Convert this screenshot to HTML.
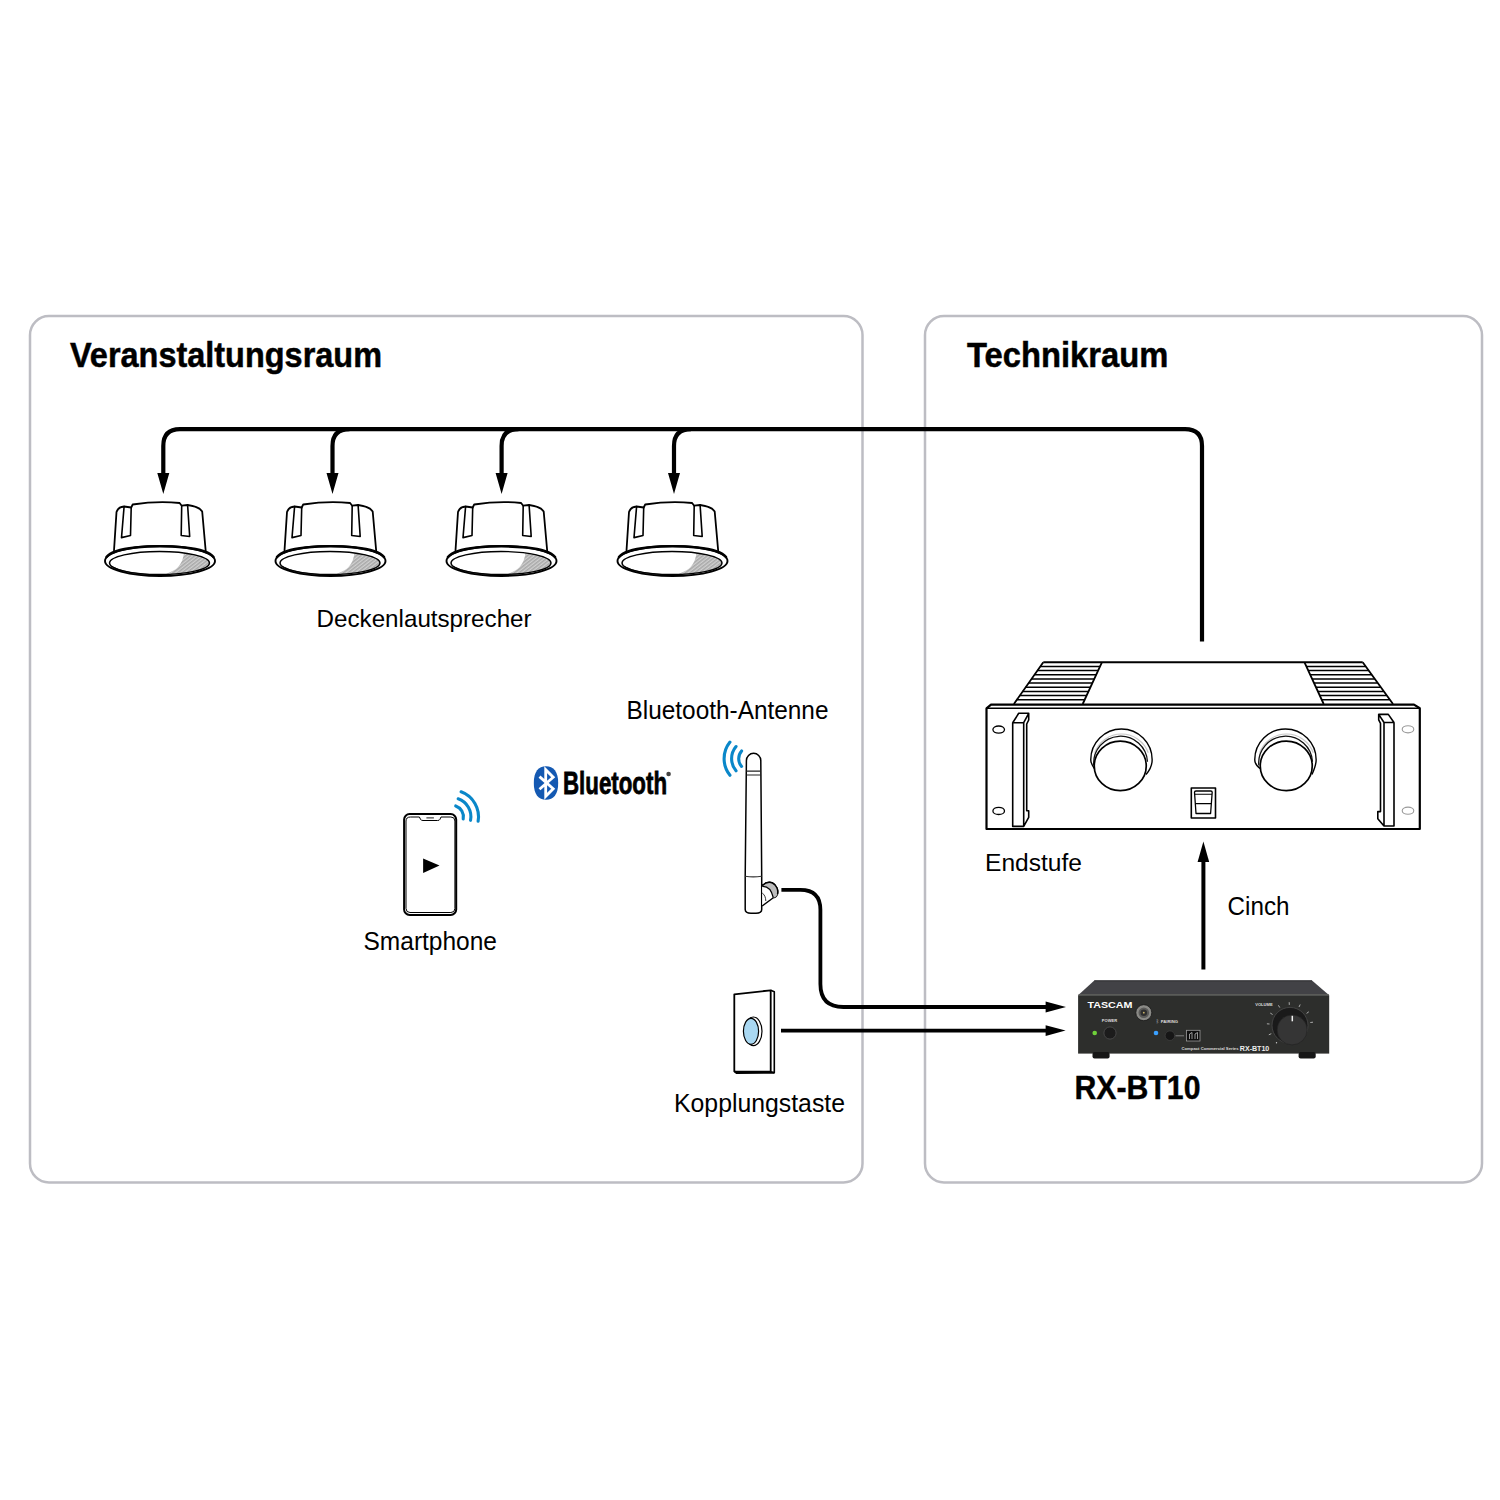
<!DOCTYPE html>
<html><head><meta charset="utf-8">
<style>
html,body{margin:0;padding:0;background:#fff;}
body{width:1500px;height:1500px;overflow:hidden;}
svg{display:block;}
text{font-family:"Liberation Sans",sans-serif;fill:#000;}
</style></head><body>
<svg width="1500" height="1500" viewBox="0 0 1500 1500">
<defs>
<pattern id="hatch" width="2.8" height="2.8" patternUnits="userSpaceOnUse" patternTransform="rotate(-38)"><rect width="2.8" height="2.8" fill="#d0d0d0"/><rect width="2.8" height="1.5" fill="#a9a9a9"/></pattern>
<clipPath id="innerClip"><ellipse cx="159.5" cy="563" rx="50" ry="11.5"/></clipPath>
<g id="spk" fill="none" stroke="#000" stroke-linejoin="round" stroke-linecap="round">
  <!-- body -->
  <path d="M114,550.5 L116.5,512 Q118,507 124.1,506.5 L131.2,507.5 L132.7,504.5 Q158,500.5 179.6,503 L181.7,505.7 L187.6,505 Q199,506.5 202.2,511.5 L205.7,551" fill="#fff" stroke-width="1.8"/>
  <path d="M124.1,506.5 L121.5,537.6 L130.5,535.5 L131.2,507.5 M181.7,505.7 L181.2,535.5 L189.7,536.5 L187.6,505" stroke-width="1.6"/>
  <!-- ring outer -->
  <ellipse cx="160" cy="561" rx="55" ry="15" fill="#fff" stroke-width="1.9"/>
  <path d="M106.5,557 Q112,550 135,547.5 Q160,545 185,547.5 Q208,550 213.5,557" stroke-width="2.6"/>
  <path d="M184.5,549 C183.5,558 182,564 176,569 C172,572 166,574 158,577 L225,580 L225,549 Z" fill="url(#hatch)" stroke="none" clip-path="url(#innerClip)"/>
  <ellipse cx="159.5" cy="563" rx="50" ry="11.5" stroke-width="1.4"/>
  <path d="M112,566.5 Q125,574.5 160,575" stroke-width="0.9"/>
</g>
</defs>

<!-- panels -->
<rect x="30" y="316" width="832.5" height="866.5" rx="19" ry="19" fill="none" stroke="#bdbdc3" stroke-width="2.5"/>
<rect x="925" y="316" width="557" height="866.5" rx="19" ry="19" fill="none" stroke="#bdbdc3" stroke-width="2.5"/>

<!-- headings -->
<text x="70" y="366.5" font-size="35.2" font-weight="bold" textLength="312" stroke="#000" stroke-width="0.5" lengthAdjust="spacingAndGlyphs">Veranstaltungsraum</text>
<text x="967" y="366.5" font-size="35.5" font-weight="bold" textLength="201.3" stroke="#000" stroke-width="0.5" lengthAdjust="spacingAndGlyphs">Technikraum</text>

<!-- bus line -->
<path d="M163.3,473 L163.3,446 Q163.3,429.2 180,429.2 L1185,429.2 Q1202,429.2 1202,446 L1202,641.4" fill="none" stroke="#000" stroke-width="4.2"/>
<path d="M349.5,429.2 Q332.5,429.2 332.5,446 L332.5,473" fill="none" stroke="#000" stroke-width="4.2"/>
<path d="M518.6,429.2 Q501.6,429.2 501.6,446 L501.6,473" fill="none" stroke="#000" stroke-width="4.2"/>
<path d="M691,429.2 Q674,429.2 674,446 L674,473" fill="none" stroke="#000" stroke-width="4.2"/>
<path d="M157.3,473 L169.3,473 L163.3,494 Z M326.5,473 L338.5,473 L332.5,494 Z M495.6,473 L507.6,473 L501.6,494 Z M668,473 L680,473 L674,494 Z"/>

<!-- speakers -->
<use href="#spk"/>
<use href="#spk" transform="translate(170.5,0)"/>
<use href="#spk" transform="translate(341.5,0)"/>
<use href="#spk" transform="translate(512.5,0)"/>

<text x="316.6" y="627" font-size="24.4" textLength="215" lengthAdjust="spacingAndGlyphs">Deckenlautsprecher</text>

<!-- ===== AMPLIFIER ===== -->
<g id="amp" fill="none" stroke="#000" stroke-linejoin="round">
  <path d="M1043.3,662.3 L1362.7,662.3" stroke-width="2"/>
  <path d="M1043.3,662.3 L1013.9,704 M1101.9,662.3 L1082.7,704 M1304.5,662.3 L1323.7,704 M1362.7,662.3 L1393,704" stroke-width="1.8"/>
  <g id="finsL" stroke-width="1.5">
    <path d="M1040.3,666.5 L1100,666.5 M1037.4,670.6 L1098,670.6 M1034.4,674.8 L1096.1,674.8 M1031.4,679 L1094.2,679 M1028.5,683.1 L1092.3,683.1 M1025.5,687.3 L1090.4,687.3 M1022.6,691.4 L1088.5,691.4 M1019.7,695.6 L1086.6,695.6 M1016.8,699.8 L1084.7,699.8"/>
  </g>
  <g stroke-width="1.5">
    <path d="M1306.4,666.5 L1365.7,666.5 M1308.3,670.6 L1368.7,670.6 M1310.2,674.8 L1371.7,674.8 M1312.1,679 L1374.7,679 M1314,683.1 L1377.7,683.1 M1316,687.3 L1380.6,687.3 M1317.9,691.4 L1383.6,691.4 M1319.8,695.6 L1386.6,695.6 M1321.7,699.8 L1389.6,699.8"/>
  </g>
  <path d="M986.5,829 L986.5,708.3 L991,704.6 L1414,704.6 L1419.8,708.2 L1419.8,829 Z" fill="#fff" stroke-width="2.2"/>
  <path d="M986.5,708.3 L1419.8,708.3" stroke-width="1.6"/>
  <ellipse cx="998.7" cy="729.6" rx="5.8" ry="3.6" stroke-width="1.3"/>
  <ellipse cx="998.7" cy="810.9" rx="5.8" ry="3.6" stroke-width="1.3"/>
  <ellipse cx="1408" cy="729.3" rx="5.8" ry="3.6" stroke="#9a9a9a" stroke-width="1.1"/>
  <ellipse cx="1408" cy="810.7" rx="5.8" ry="3.6" stroke="#9a9a9a" stroke-width="1.1"/>
  <!-- left handle -->
  <path d="M1012.7,722.7 L1023.7,722.7 L1023.7,826.4 L1012.7,826.4 Z M1012.7,722.7 L1018.7,713.3 L1028.7,713.3 L1023.7,722.7 M1028.7,713.3 L1028.7,720 L1026.7,724 L1026.7,810.7 L1028.7,810.7 L1028.7,817.3 L1023.7,826.4" stroke-width="1.6"/>
  <!-- right handle -->
  <path d="M1384,722.5 L1394,722.5 L1394,826 L1384,826 Z M1384,722.5 L1378.7,714.4 L1388.3,714.4 L1394,722.5 M1378.7,714.4 L1378.7,719.8 L1380.5,723.4 L1380.5,811.6 L1377.8,811.6 L1377.8,818.8 L1384,826" stroke-width="1.6"/>
  <!-- knobs -->
  <path d="M1094.6,769 C1092.5,766 1090.75,763 1090.75,759.7 A30.7,30.7 0 0 1 1152.15,759.7 C1152.15,765 1150,770 1146,774.5" stroke-width="1.4"/>
  <path d="M1094.72,752.75 A28.5,28.5 0 0 1 1148.28,752.75" stroke="#c8c8c8" stroke-width="1.2"/>
  <path d="M1093.80,765.49 A26.9,26.9 0 1 1 1147.46,761.74" stroke="#111" stroke-width="1.3"/>
  <ellipse cx="1120.25" cy="765.9" rx="26" ry="24.8" fill="#fff" stroke-width="1.7"/>
  <path d="M1260.6,769 C1256.5,766 1254.75,763 1254.75,759.7 A30.7,30.7 0 0 1 1316.15,759.7 C1316.15,765 1314,770 1312,774.5" stroke-width="1.4"/>
  <path d="M1259.72,752.75 A28.5,28.5 0 0 1 1313.28,752.75" stroke="#c8c8c8" stroke-width="1.2"/>
  <path d="M1258.80,765.49 A26.9,26.9 0 1 1 1312.46,761.74" stroke="#111" stroke-width="1.3"/>
  <ellipse cx="1286.25" cy="765.9" rx="26" ry="24.8" fill="#fff" stroke-width="1.7"/>
  <!-- switch -->
  <rect x="1191.3" y="788" width="24.2" height="30" stroke-width="1.6"/>
  <path d="M1194.5,792.3 Q1194.5,791 1196,791 L1210.8,791 Q1212.2,791 1212.2,792.3 L1210.6,813.5 L1196,813.5 Z" stroke-width="1.3"/>
  <path d="M1194.7,794.2 L1212,794.2 M1195.4,803.6 L1211.3,803.6" stroke-width="1.1"/>
</g>

<text x="985" y="870.8" font-size="24.6" textLength="97" lengthAdjust="spacingAndGlyphs">Endstufe</text>
<text x="1227.5" y="914.6" font-size="25" textLength="62" lengthAdjust="spacingAndGlyphs">Cinch</text>
<text x="1074.5" y="1099" font-size="32.7" font-weight="bold" textLength="126" stroke="#000" stroke-width="0.4" lengthAdjust="spacingAndGlyphs">RX-BT10</text>
<text x="626.5" y="718.5" font-size="25" textLength="202" lengthAdjust="spacingAndGlyphs">Bluetooth-Antenne</text>
<text x="363.5" y="950" font-size="25.4" textLength="133.5" lengthAdjust="spacingAndGlyphs">Smartphone</text>
<text x="674" y="1111.9" font-size="25.3" textLength="171" lengthAdjust="spacingAndGlyphs">Kopplungstaste</text>

<!-- cinch arrow -->
<path d="M1203.4,969.5 L1203.4,860" fill="none" stroke="#000" stroke-width="4"/>
<path d="M1197.6,862 L1209.2,862 L1203.4,841.5 Z"/>

<!-- cables -->
<path d="M781.4,889.8 L800.4,889.8 Q820.4,889.8 820.4,909.8 L820.4,984 Q820.4,1007 843.4,1007 L1047,1007" fill="none" stroke="#000" stroke-width="3.8"/>
<path d="M1045.6,1001.5 L1066,1007 L1045.6,1012.5 Z"/>
<path d="M781,1030.7 L1047,1030.7" fill="none" stroke="#000" stroke-width="3.8"/>
<path d="M1045.6,1025.2 L1065.6,1030.6 L1045.6,1036 Z"/>

<!-- phone -->
<g fill="none" stroke="#000">
  <rect x="404.1" y="814.1" width="52.1" height="100.8" rx="5.5" stroke-width="2"/>
  <path d="M410.5,817 L419.4,817 L420.5,819.3 Q421,820.5 423,820.5 L437.5,820.5 Q439.5,820.5 440,819.3 L441,817 L450.9,817 Q454.9,817 454.9,821 L454.9,908.5 Q454.9,912.5 450.9,912.5 L410,912.5 Q406,912.5 406,908.5 L406,821 Q406,817 410.5,817 Z" stroke-width="1"/>
  <path d="M426.4,817.9 L433.9,817.9" stroke-width="0.9"/>
</g>
<path d="M423.1,858.4 L439.5,865.4 L423.1,872.9 Z"/>
<g fill="none" stroke="#0a87c9" stroke-width="3.1" stroke-linecap="round" id="arcsP"><path d="M455.71,805.92 A11.4,11.4 0 0 1 463.19,818.88"/><path d="M458.15,798.83 A18.9,18.9 0 0 1 470.55,820.31"/><path d="M461.06,791.80 A26.5,26.5 0 0 1 478.10,821.30"/></g>

<!-- bluetooth logo -->
<path d="M546,766.2 C553.5,766.2 558.2,771.5 558.2,783 C558.2,794.5 553.5,799.8 546,799.8 C538.5,799.8 533.8,794.5 533.8,783 C533.8,771.5 538.5,766.2 546,766.2 Z" fill="#1459b2"/>
<path d="M539.5,776.6 L553.2,788.8 L545.7,796.3 L545.7,769.7 L553.2,777.2 L539.5,789.3" fill="none" stroke="#fff" stroke-width="2.8" stroke-linejoin="miter"/>
<text x="563" y="794.1" font-size="31" font-weight="bold" textLength="104" lengthAdjust="spacingAndGlyphs" stroke="#000" stroke-width="0.8">Bluetooth</text>
<circle cx="668.6" cy="774" r="2.3" fill="#444"/>

<!-- antenna -->
<g fill="none" stroke="#000" stroke-linejoin="round">
  <path d="M746.4,760.5 A7.2,7.2 0 0 1 760.8,760.5 L761.7,876.5 L761.7,909.5 Q761.7,913.2 756,913.2 L751,913.2 Q745.2,913.2 745.2,909.5 L745.2,876.5 Z" fill="#fff" stroke-width="1.5"/>
  <path d="M746.3,771.1 L760.9,771.1 M746.3,775 L760.9,775" stroke-width="1.2" stroke="#222"/>
  <path d="M745.2,876.3 Q753,877.5 761.7,876.3" stroke-width="1.1" stroke="#333"/>
  <path d="M762.2,885.7 C765,883 769,881.5 772.5,883 C776.5,885 778.5,890 777.5,894 C777,896 775.5,897.3 773.3,897.7 L762.2,906" fill="#fff" stroke-width="1.4"/>
  <path d="M762.2,886.3 C767,886 771.5,889.5 773.3,897.7 C775.5,897.3 777,896 777.5,894 C778.5,890 776.5,885 772.5,883 C769,881.5 765,883 762.2,885.7 Z" fill="#bdbdbd" stroke="none"/>
  <path d="M762.2,886.3 C767,886 771.5,889.5 773.3,897.7" stroke-width="1.3"/>
  <path d="M777.5,894 C778.5,890 776.5,885 772.5,883 C769,881.5 765,883 762.2,885.7" stroke-width="1.4"/>
  <path d="M762.2,893 C764.5,894.5 765.8,897.5 765.8,901" stroke-width="0.8"/>
</g>
<g fill="none" stroke="#0a87c9" stroke-width="3.1" stroke-linecap="round" id="arcsA"><path d="M741.59,750.96 A11.8,11.8 0 0 0 741.59,766.44"/><path d="M736.02,746.55 A18.9,18.9 0 0 0 736.02,770.85"/><path d="M729.98,742.09 A26.4,26.4 0 0 0 729.98,775.31"/></g>

<!-- wall button -->
<g fill="none" stroke="#000" stroke-linejoin="round">
  <path d="M734.3,994.3 L770.7,990.3 L770.7,1071.7 L734.3,1071.3 Z" fill="#fff" stroke-width="1.8"/>
  <path d="M770.7,990.3 L774.3,991.7 L774.3,1072.7 L770.7,1071.7" stroke-width="1.6"/>
  <path d="M734.3,1071.3 L736.5,1073 L774.3,1072.7" stroke-width="2"/>
  <ellipse cx="753.4" cy="1031.3" rx="8.6" ry="14.3" fill="#fff" stroke-width="1.2"/>
  <ellipse cx="751" cy="1031.3" rx="7.6" ry="13" fill="#a9d8f2" stroke-width="1.2"/>
</g>

<!-- RX-BT10 device -->
<g id="rx">
  <path d="M1094.3,980.4 L1312,980.4 L1329.2,995.2 L1078.1,995.2 Z" fill="#424246"/>
  <path d="M1094.3,981 L1312,981" stroke="#3a3a3c" stroke-width="1.4"/>
  <rect x="1078.1" y="995.2" width="251.1" height="58.4" fill="#2d2e2c"/>
  <path d="M1078.6,994.6 L1328.7,994.6" stroke="#5a5b58" stroke-width="1.1"/>
  <rect x="1092.5" y="1052" width="17.1" height="6.5" rx="2" fill="#161616"/>
  <rect x="1298.6" y="1052" width="17.1" height="6.5" rx="2" fill="#161616"/>
  <text x="1087.5" y="1007.8" font-size="9.6" font-weight="bold" fill="#fff" style="fill:#fff" textLength="45" lengthAdjust="spacingAndGlyphs">TASCAM</text>
  <circle cx="1143.8" cy="1012.7" r="8" fill="#8a8a86" stroke="#151515" stroke-width="0.8"/>
  <circle cx="1143.8" cy="1012.7" r="5.3" fill="#5a5a58"/>
  <circle cx="1143.8" cy="1012.7" r="3.3" fill="#2e2e2e"/>
  <circle cx="1143.8" cy="1012.7" r="0.9" fill="#c9b46a"/>
  <text x="1101.8" y="1022.2" font-size="4" font-weight="bold" style="fill:#ddd" textLength="15.5" lengthAdjust="spacingAndGlyphs">POWER</text>
  <text x="1160.8" y="1023.2" font-size="4" font-weight="bold" style="fill:#ddd" textLength="17.2" lengthAdjust="spacingAndGlyphs">PAIRING</text>
  <text x="1155.5" y="1023" font-size="5" style="fill:#ccc">ᛒ</text>
  <circle cx="1094.7" cy="1033" r="2.3" fill="#6fd13a"/>
  <circle cx="1110" cy="1033" r="6.1" fill="#1c1c1c" stroke="#4a4a4a" stroke-width="0.9"/>
  <circle cx="1156" cy="1033" r="2.3" fill="#3aa0ff"/>
  <circle cx="1169.9" cy="1035.7" r="4.8" fill="#161616" stroke="#3d3d3d" stroke-width="0.8"/>
  <path d="M1175.5,1035.8 L1184,1035.8" stroke="#888" stroke-width="0.9"/>
  <rect x="1186.6" y="1030.3" width="13.4" height="10.7" fill="#0d0d0d" stroke="#9a9a9a" stroke-width="0.8"/>
  <path d="M1189.5,1039 L1189.5,1034 L1192,1032.5 L1192,1039 M1195,1039 L1195,1034 L1197.5,1032.5 L1197.5,1039" fill="none" stroke="#bbb" stroke-width="0.8"/>
  <text x="1181.5" y="1050" font-size="3.8" font-weight="bold" style="fill:#ddd" textLength="57" lengthAdjust="spacingAndGlyphs">Compact Commercial Series</text>
  <text x="1239.8" y="1050.6" font-size="6.8" font-weight="bold" style="fill:#eee" textLength="29.5" lengthAdjust="spacingAndGlyphs">RX-BT10</text>
  <text x="1255.2" y="1006" font-size="3.9" font-weight="bold" style="fill:#ddd" textLength="17.5" lengthAdjust="spacingAndGlyphs">VOLUME</text>
  <circle cx="1290" cy="1025.4" r="18" fill="#1a1a1a" stroke="#4a4a4a" stroke-width="0.8"/>
  <circle cx="1292.1" cy="1029.9" r="15" fill="#353535" stroke="#202020" stroke-width="0.6"/>
  <path d="M1292.3,1015.8 L1292.3,1021.3" stroke="#f2f2f2" stroke-width="1.5"/>
  <g stroke="#b8b8b8" stroke-width="0.9" id="ticks"><circle cx="1276.5" cy="1042.7" r="0.7" fill="#ccc" stroke="none"/><path d="M1271.3,1033.7 L1268.8,1034.8"/><path d="M1269.5,1024.0 L1266.9,1023.8"/><path d="M1272.6,1014.5 L1270.3,1013.1"/><path d="M1279.8,1007.6 L1278.4,1005.3"/><path d="M1289.3,1004.9 L1289.2,1002.2"/><path d="M1299.0,1007.0 L1300.2,1004.5"/><path d="M1306.6,1013.4 L1308.8,1011.8"/><path d="M1310.3,1022.5 L1313.0,1022.2"/></g>
</g>

</svg>
</body></html>
